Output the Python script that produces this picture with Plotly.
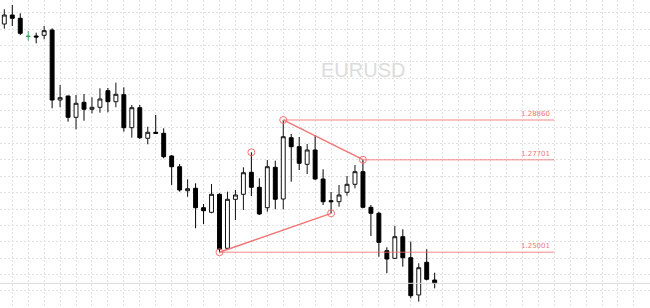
import plotly.graph_objects as go

# ---- data ----
idx = list(range(55))
opens = [1.31660, 1.31922, 1.31826, 1.31301, 1.31310, 1.31330, 1.31485, 1.29443, 1.29560, 1.28938,
         1.29376, 1.29172, 1.29230, 1.29714, 1.29394, 1.29598, 1.28635, 1.29218, 1.28326, 1.28501,
         1.28472, 1.27810, 1.27497, 1.26797, 1.26867, 1.26301, 1.26167, 1.26692, 1.25117, 1.26546,
         1.26692, 1.27334, 1.26897, 1.26301, 1.27480, 1.26555, 1.28343, 1.28081, 1.27567, 1.27985,
         1.27139, 1.26506, 1.26476, 1.26751, 1.26984, 1.27352, 1.26313, 1.26138, 1.25047, 1.24825,
         1.25456, 1.24843, 1.23755, 1.24709, 1.24192]
highs = [1.32089, 1.32214, 1.31972, 1.31456, 1.31406, 1.31602, 1.31534, 1.29881, 1.29568, 1.29589,
         1.29618, 1.29522, 1.29784, 1.29793, 1.29948, 1.29813, 1.29297, 1.29297, 1.28664, 1.29006,
         1.28617, 1.27839, 1.27576, 1.27130, 1.27013, 1.26409, 1.26993, 1.26721, 1.26768, 1.26818,
         1.27480, 1.27917, 1.27159, 1.27693, 1.27672, 1.28860, 1.28451, 1.28364, 1.28160, 1.28422,
         1.27422, 1.26759, 1.26964, 1.27226, 1.27547, 1.27701, 1.26380, 1.26185, 1.25146, 1.25768,
         1.25671, 1.25310, 1.24680, 1.25088, 1.24405]
lows = [1.31523, 1.31602, 1.31339, 1.31173, 1.31097, 1.31214, 1.29201, 1.29230, 1.28810, 1.28588,
        1.28839, 1.29055, 1.29073, 1.29084, 1.29230, 1.28518, 1.28343, 1.28305, 1.28151, 1.28451,
        1.27742, 1.26964, 1.26768, 1.26622, 1.25701, 1.25826, 1.26138, 1.25001, 1.25088, 1.25943,
        1.26234, 1.26643, 1.26088, 1.26185, 1.26255, 1.26255, 1.27060, 1.27401, 1.27284, 1.27109,
        1.26380, 1.26138, 1.26331, 1.26651, 1.26867, 1.26284, 1.25476, 1.24872, 1.24388, 1.24805,
        1.24580, 1.23659, 1.23560, 1.24184, 1.23950]
closes = [1.31922, 1.31826, 1.31389, 1.31301, 1.31281, 1.31465, 1.29443, 1.29510, 1.28938, 1.29347,
          1.29172, 1.29230, 1.29472, 1.29394, 1.29609, 1.28635, 1.29218, 1.28343, 1.28501, 1.28472,
          1.27789, 1.27497, 1.26818, 1.26856, 1.26301, 1.26214, 1.26692, 1.25088, 1.26546, 1.26672,
          1.27322, 1.26897, 1.26118, 1.27497, 1.26546, 1.28372, 1.28081, 1.27597, 1.27985, 1.27139,
          1.26476, 1.26476, 1.26672, 1.26984, 1.27352, 1.26313, 1.26138, 1.25292, 1.24805, 1.25456,
          1.24843, 1.23735, 1.24551, 1.24213, 1.24096]
doji_idx = [3]

# pattern points (candle index, price)
pattern_x = [27, 31, 35, 41, 45]
pattern_y = [1.25001, 1.27917, 1.28860, 1.26138, 1.27701]
trend_a_x = [27, 41]
trend_a_y = [1.25001, 1.26138]
trend_b_x = [35, 45]
trend_b_y = [1.28860, 1.27701]
level_start = [35, 45, 27]
level_end = 69
level_vals = [1.28860, 1.27701, 1.25001]
level_labels = ["1.28860", "1.27701", "1.25001"]
symbol = "EURUSD"
last_price = closes[-1]

fig = go.Figure()

# regular candles (excluding doji)
reg = [i for i in idx if i not in doji_idx]
fig.add_trace(go.Candlestick(
    x=reg,
    open=[opens[i] for i in reg], high=[highs[i] for i in reg],
    low=[lows[i] for i in reg], close=[closes[i] for i in reg],
    increasing=dict(line=dict(color="#111111", width=1), fillcolor="#ffffff"),
    decreasing=dict(line=dict(color="#000000", width=1), fillcolor="#000000"),
    whiskerwidth=0, showlegend=False, hoverinfo="skip"))

fig.add_trace(go.Candlestick(
    x=doji_idx,
    open=[opens[i] for i in doji_idx], high=[highs[i] for i in doji_idx],
    low=[lows[i] for i in doji_idx], close=[closes[i] for i in doji_idx],
    increasing=dict(line=dict(color="#3aa35a", width=1), fillcolor="#3aa35a"),
    decreasing=dict(line=dict(color="#3aa35a", width=1), fillcolor="#3aa35a"),
    whiskerwidth=0, showlegend=False, hoverinfo="skip"))

# current price line
fig.add_hline(y=last_price, line=dict(color="#d9d9d9", width=1))

# level lines
for xs, v in zip(level_start, level_vals):
    fig.add_trace(go.Scatter(x=[xs, level_end], y=[v, v], mode="lines",
                             line=dict(color="rgba(240,110,110,0.55)", width=1.5),
                             showlegend=False, hoverinfo="skip"))

# trend lines
fig.add_trace(go.Scatter(x=trend_a_x, y=trend_a_y, mode="lines",
                         line=dict(color="#f07474", width=1.4), showlegend=False, hoverinfo="skip"))
fig.add_trace(go.Scatter(x=trend_b_x, y=trend_b_y, mode="lines",
                         line=dict(color="#f07474", width=1.4), showlegend=False, hoverinfo="skip"))

# pattern markers
fig.add_trace(go.Scatter(x=pattern_x, y=pattern_y, mode="markers",
                         marker=dict(symbol="circle-open", size=7, color="#f07474",
                                     line=dict(width=1, color="#f07474")),
                         showlegend=False, hoverinfo="skip"))

for v, lab in zip(level_vals, level_labels):
    fig.add_annotation(x=level_end, y=v, text=lab, showarrow=False,
                       xanchor="right", yanchor="bottom", xshift=-2, yshift=0,
                       font=dict(family="DejaVu Sans", size=7, color="#f07878"))

fig.add_annotation(x=0.559, y=0.773, xref="paper", yref="paper", text=symbol,
                   showarrow=False, xanchor="center", yanchor="middle",
                   font=dict(family="Liberation Sans, Arial", size=20, color="#dcdcdc"))

grid = dict(showgrid=True, gridcolor="#e2e2e2", griddash="2px,2px", gridwidth=1,
            showticklabels=False, zeroline=False, showline=False, ticks="")

fig.update_layout(
    width=650, height=308, margin=dict(l=0, r=0, t=0, b=0),
    paper_bgcolor="white", plot_bgcolor="white",
    xaxis=dict(range=[-0.5395, 81.016], tick0=1, dtick=2, rangeslider=dict(visible=False), **grid),
    yaxis=dict(range=[1.233756, 1.32360], tick0=1.27693, dtick=0.00477, **grid),
)

fig.write_html("out.html")
